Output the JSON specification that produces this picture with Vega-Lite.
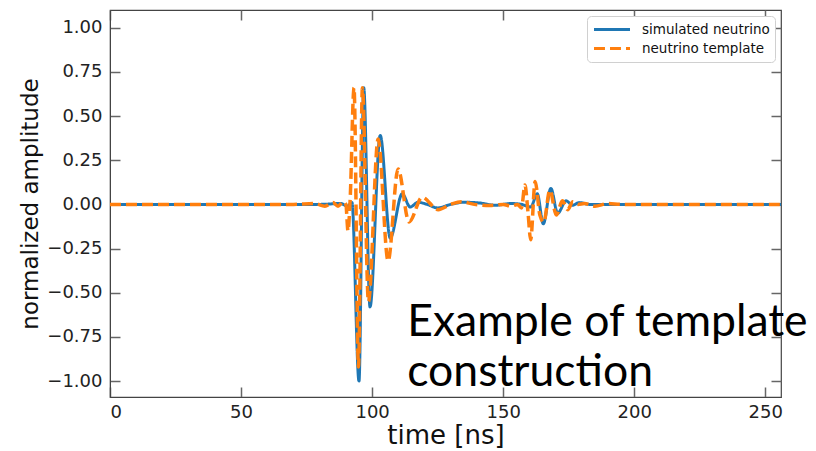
{
  "$schema": "https://vega.github.io/schema/vega-lite/v6.json",
  "width": 671,
  "height": 387,
  "autosize": {"type": "none"},
  "padding": {"left": 110, "top": 10, "right": 35, "bottom": 54},
  "background": "white",
  "config": {
    "view": {"stroke": "#444", "strokeWidth": 1.2},
    "font": "DejaVu Sans",
    "axis": {
      "grid": false,
      "labelFont": "DejaVu Sans",
      "labelFontSize": 18,
      "labelColor": "#222",
      "titleFont": "DejaVu Sans",
      "titleFontSize": 22,
      "titleFontWeight": "normal",
      "titleColor": "#111",
      "domainColor": "#444",
      "tickColor": "#666",
      "tickWidth": 1.5
    },
    "legend": {
      "labelFont": "DejaVu Sans",
      "labelFontSize": 13.5,
      "labelColor": "#111"
    }
  },
  "resolve": {"axis": {"x": "independent", "y": "independent"}},
  "datasets": {
    "sim": [
      {"t": 0, "v": 0, "series": "simulated neutrino"},
      {"t": 80, "v": 0, "series": "simulated neutrino"},
      {"t": 88, "v": 0.005, "series": "simulated neutrino"},
      {"t": 90.5, "v": -0.01, "series": "simulated neutrino"},
      {"t": 92.3, "v": 0.01, "series": "simulated neutrino"},
      {"t": 95.0, "v": -1.0, "series": "simulated neutrino"},
      {"t": 96.8, "v": 0.66, "series": "simulated neutrino"},
      {"t": 99.2, "v": -0.58, "series": "simulated neutrino"},
      {"t": 103.1, "v": 0.39, "series": "simulated neutrino"},
      {"t": 106.9, "v": -0.19, "series": "simulated neutrino"},
      {"t": 111.5, "v": 0.06, "series": "simulated neutrino"},
      {"t": 114.5, "v": -0.015, "series": "simulated neutrino"},
      {"t": 117.6, "v": 0.012, "series": "simulated neutrino"},
      {"t": 121, "v": 0.0, "series": "simulated neutrino"},
      {"t": 125, "v": -0.02, "series": "simulated neutrino"},
      {"t": 130, "v": 0.0, "series": "simulated neutrino"},
      {"t": 135, "v": 0.012, "series": "simulated neutrino"},
      {"t": 141, "v": 0.008, "series": "simulated neutrino"},
      {"t": 147, "v": -0.005, "series": "simulated neutrino"},
      {"t": 153, "v": 0.005, "series": "simulated neutrino"},
      {"t": 157, "v": 0.0, "series": "simulated neutrino"},
      {"t": 160.5, "v": -0.015, "series": "simulated neutrino"},
      {"t": 163.0, "v": 0.06, "series": "simulated neutrino"},
      {"t": 165.3, "v": -0.11, "series": "simulated neutrino"},
      {"t": 168.2, "v": 0.09, "series": "simulated neutrino"},
      {"t": 170.8, "v": -0.05, "series": "simulated neutrino"},
      {"t": 174.0, "v": 0.02, "series": "simulated neutrino"},
      {"t": 176.5, "v": -0.005, "series": "simulated neutrino"},
      {"t": 179, "v": 0.01, "series": "simulated neutrino"},
      {"t": 183, "v": 0.0, "series": "simulated neutrino"},
      {"t": 256, "v": 0.0, "series": "simulated neutrino"}
    ],
    "tpl": [
      {"t": 0, "v": 0, "series": "neutrino template"},
      {"t": 70, "v": 0, "series": "neutrino template"},
      {"t": 78, "v": 0.005, "series": "neutrino template"},
      {"t": 82, "v": -0.01, "series": "neutrino template"},
      {"t": 85, "v": 0.01, "series": "neutrino template"},
      {"t": 87, "v": -0.01, "series": "neutrino template"},
      {"t": 89.0, "v": 0.015, "series": "neutrino template"},
      {"t": 90.0, "v": 0.0, "series": "neutrino template"},
      {"t": 90.8, "v": -0.15, "series": "neutrino template"},
      {"t": 91.6, "v": 0.02, "series": "neutrino template"},
      {"t": 93.1, "v": 0.66, "series": "neutrino template"},
      {"t": 94.8, "v": -0.92, "series": "neutrino template"},
      {"t": 96.3, "v": 0.66, "series": "neutrino template"},
      {"t": 98.6, "v": -0.55, "series": "neutrino template"},
      {"t": 102.3, "v": 0.37, "series": "neutrino template"},
      {"t": 106.1, "v": -0.32, "series": "neutrino template"},
      {"t": 109.9, "v": 0.2, "series": "neutrino template"},
      {"t": 114.1, "v": -0.1, "series": "neutrino template"},
      {"t": 119.1, "v": 0.04, "series": "neutrino template"},
      {"t": 125.2, "v": -0.03, "series": "neutrino template"},
      {"t": 130, "v": 0.0, "series": "neutrino template"},
      {"t": 134, "v": 0.015, "series": "neutrino template"},
      {"t": 139, "v": 0.0, "series": "neutrino template"},
      {"t": 145, "v": -0.006, "series": "neutrino template"},
      {"t": 150, "v": 0.0, "series": "neutrino template"},
      {"t": 153, "v": -0.01, "series": "neutrino template"},
      {"t": 155.5, "v": 0.0, "series": "neutrino template"},
      {"t": 157, "v": -0.02, "series": "neutrino template"},
      {"t": 158.3, "v": 0.11, "series": "neutrino template"},
      {"t": 159.5, "v": -0.05, "series": "neutrino template"},
      {"t": 160.5, "v": -0.2, "series": "neutrino template"},
      {"t": 162.2, "v": 0.13, "series": "neutrino template"},
      {"t": 164.0, "v": -0.06, "series": "neutrino template"},
      {"t": 165.5, "v": -0.1, "series": "neutrino template"},
      {"t": 167.8, "v": 0.08, "series": "neutrino template"},
      {"t": 170.3, "v": -0.06, "series": "neutrino template"},
      {"t": 172.6, "v": 0.02, "series": "neutrino template"},
      {"t": 174.6, "v": -0.03, "series": "neutrino template"},
      {"t": 176.6, "v": 0.015, "series": "neutrino template"},
      {"t": 178.6, "v": 0.0, "series": "neutrino template"},
      {"t": 181, "v": 0.005, "series": "neutrino template"},
      {"t": 185, "v": -0.01, "series": "neutrino template"},
      {"t": 190, "v": 0.005, "series": "neutrino template"},
      {"t": 195, "v": 0.0, "series": "neutrino template"},
      {"t": 256, "v": 0.0, "series": "neutrino template"}
    ],
    "note": [
      {"t": 113.4, "v": -0.744, "label": "Example of template\nconstruction"}
    ]
  },
  "layer": [
    {
      "data": {"name": "sim"},
      "mark": {"type": "line", "strokeWidth": 3, "interpolate": "monotone"},
      "encoding": {
        "x": {
          "field": "t", "type": "quantitative",
          "scale": {"domain": [0, 256], "nice": false, "zero": false},
          "axis": {"title": "time [ns]", "titleFontSize": 26, "values": [0, 50, 100, 150, 200, 250], "format": "d", "tickSize": -10, "labelPadding": 16, "titlePadding": 1}
        },
        "y": {
          "field": "v", "type": "quantitative",
          "scale": {"domain": [-1.09, 1.1], "nice": false, "zero": false},
          "axis": {"title": "normalized amplitude", "titleFontSize": 23, "values": [-1, -0.75, -0.5, -0.25, 0, 0.25, 0.5, 0.75, 1], "format": ".2f", "tickSize": -10, "labelPadding": 18, "titlePadding": 4}
        },
        "color": {
          "field": "series", "type": "nominal",
          "scale": {"domain": ["simulated neutrino", "neutrino template"], "range": ["#1f77b4", "#ff7f0e"]},
          "legend": {"title": null, "orient": "top-right", "offset": 6, "symbolType": "stroke", "symbolSize": 1300, "symbolStrokeWidth": 3, "clipHeight": 17, "strokeColor": "#d0d0d0", "fillColor": "white", "cornerRadius": 4, "padding": 5, "rowPadding": 2, "labelOffset": 10}
        },
        "strokeDash": {
          "field": "series", "type": "nominal",
          "scale": {"domain": ["simulated neutrino", "neutrino template"], "range": [[1, 0], [11, 5]]},
          "legend": {"title": null}
        }
      }
    },
    {
      "data": {"name": "tpl"},
      "mark": {"type": "line", "strokeWidth": 3.5, "interpolate": "monotone"},
      "encoding": {
        "x": {"field": "t", "type": "quantitative", "axis": null},
        "y": {"field": "v", "type": "quantitative", "axis": null},
        "color": {"field": "series", "type": "nominal"},
        "strokeDash": {"field": "series", "type": "nominal"}
      }
    },
    {
      "data": {"name": "sim"},
      "mark": {"type": "line", "strokeOpacity": 0},
      "encoding": {
        "x": {"field": "t", "type": "quantitative", "axis": {"orient": "top", "labels": false, "domain": false, "title": null, "values": [0, 50, 100, 150, 200, 250], "tickSize": -10}},
        "y": {"field": "v", "type": "quantitative", "axis": {"orient": "right", "labels": false, "domain": false, "title": null, "values": [-1, -0.75, -0.5, -0.25, 0, 0.25, 0.5, 0.75, 1], "tickSize": -10}}
      }
    },
    {
      "data": {"name": "note"},
      "mark": {"type": "text", "align": "left", "baseline": "alphabetic", "font": "Lato", "fontSize": 44.5, "lineHeight": 50, "lineBreak": "\n", "color": "#000"},
      "encoding": {
        "x": {"field": "t", "type": "quantitative", "axis": null},
        "y": {"field": "v", "type": "quantitative", "axis": null},
        "text": {"field": "label"}
      }
    }
  ]
}
